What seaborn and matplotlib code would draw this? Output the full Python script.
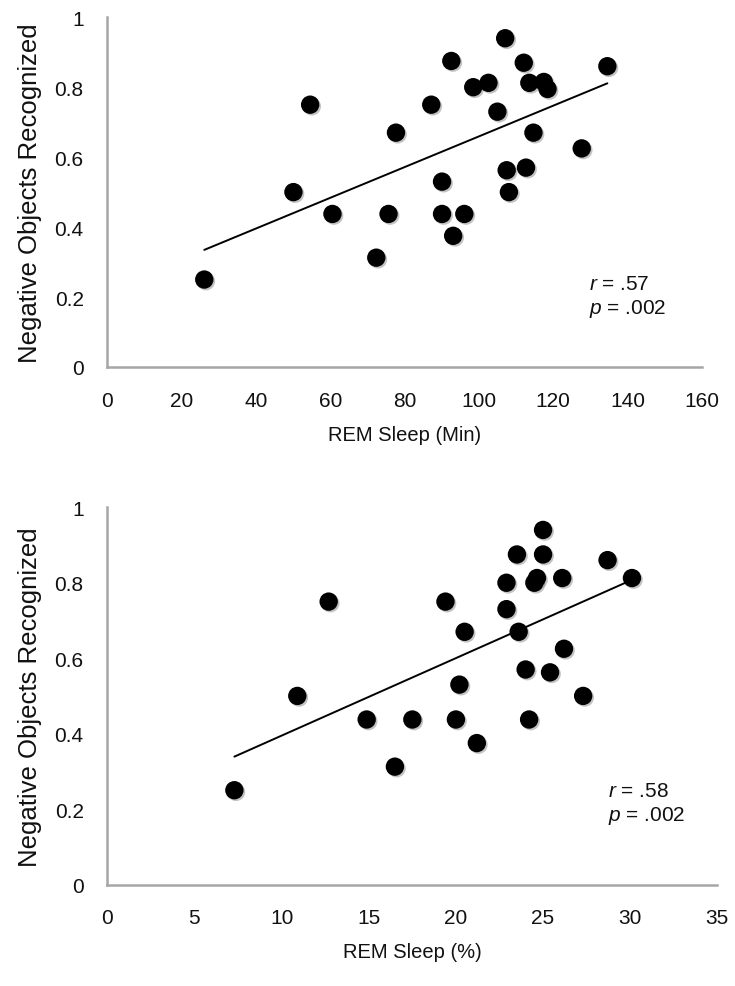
import numpy as np
import pandas as pd
import seaborn as sns
import matplotlib
matplotlib.use("Agg")
import matplotlib.pyplot as plt
import matplotlib.patheffects as pe

# REM sleep in minutes vs proportion of negative objects recognized
rem_min = [26.1, 50.1, 54.6, 60.6, 72.4, 75.7, 77.7, 87.2, 92.6, 90.1, 90.1, 96.1, 93.1, 98.5,
           102.6, 105.0, 107.1, 107.5, 108.1, 112.1, 112.7, 113.6, 114.7, 117.5, 118.5, 127.7, 134.6]
neg_min = [0.25, 0.5, 0.75, 0.4375, 0.3125, 0.4375, 0.67, 0.75, 0.875, 0.53, 0.4375, 0.4375, 0.375, 0.8,
           0.8125, 0.73, 0.94, 0.5625, 0.5, 0.87, 0.57, 0.8125, 0.67, 0.815, 0.795, 0.625, 0.86]

# REM sleep in percent vs proportion of negative objects recognized
rem_pct = [7.29, 10.9, 12.7, 14.88, 16.5, 17.5, 19.4, 20.0, 20.2, 20.5, 21.2, 22.9, 22.9, 23.5,
           23.6, 24.0, 24.2, 24.5, 24.65, 25.0, 25.0, 25.4, 26.1, 26.2, 27.3, 28.7, 30.1]
neg_pct = [0.25, 0.5, 0.75, 0.4375, 0.3125, 0.4375, 0.75, 0.4375, 0.53, 0.67, 0.375, 0.8, 0.73, 0.875,
           0.67, 0.57, 0.4375, 0.8, 0.8125, 0.94, 0.875, 0.5625, 0.8125, 0.625, 0.5, 0.86, 0.8125]

y_ticks = [0, 0.2, 0.4, 0.6, 0.8, 1]
x_ticks_min = [0, 20, 40, 60, 80, 100, 120, 140, 160]
x_ticks_pct = [0, 5, 10, 15, 20, 25, 30, 35]

sns.set_style("white")
plt.rcParams['font.family'] = ['Liberation Sans', 'DejaVu Sans']
plt.rcParams['mathtext.fontset'] = 'custom'
plt.rcParams['mathtext.it'] = 'Liberation Sans:italic'
plt.rcParams['mathtext.rm'] = 'Liberation Sans'

AXIS_GREY = '#a6a6a6'
TEXT_COL = '#111111'


def rem_panel(ax, x, y, xticks, xlabel, stats, stats_pos):
    """
    Scatter with a linear fit, Excel look
    """
    df = pd.DataFrame({'rem': x, 'neg': y})
    shadow = [pe.SimplePatchShadow(offset=(1.2, -1.2), shadow_rgbFace='#888888', alpha=0.5), pe.Normal()]
    sns.regplot(x='rem', y='neg', data=df, ax=ax, ci=None,
                scatter_kws=dict(s=175, color='black', linewidths=0, alpha=1, path_effects=shadow),
                line_kws=dict(color='black', lw=1.4))
    ax.set_xlim(xticks[0], xticks[-1])
    ax.set_ylim(0, 1)
    ax.set_xticks(xticks)
    ax.set_yticks(y_ticks)
    ax.set_yticklabels(['{:g}'.format(t) for t in y_ticks])
    ax.set_xlabel(xlabel, fontsize=14.5, color=TEXT_COL, labelpad=11)
    ax.set_ylabel('Negative Objects Recognized', fontsize=18.5, color=TEXT_COL, labelpad=9)
    sns.despine(ax=ax)
    for side in ['left', 'bottom']:
        ax.spines[side].set_color(AXIS_GREY)
        ax.spines[side].set_linewidth(1.8)
    ax.tick_params(axis='both', direction='out', length=5, width=1.5, color=AXIS_GREY,
                   labelsize=15, labelcolor=TEXT_COL)
    ax.tick_params(axis='x', pad=12)
    ax.tick_params(axis='y', pad=12)
    ax.text(stats_pos[0], stats_pos[1], stats, fontsize=15, color=TEXT_COL,
            linespacing=1.25, va='baseline')


fig = plt.figure(figsize=(7.35, 9.87), dpi=100)
ax1 = fig.add_axes([0.146, 0.6272, 0.8087, 0.3543])
ax2 = fig.add_axes([0.146, 0.1028, 0.830, 0.3822])

rem_panel(ax1, rem_min, neg_min, x_ticks_min, 'REM Sleep (Min)',
          '$\\it{r}$ = .57\n$\\it{p}$ = .002', (129.6, 0.153))
rem_panel(ax2, rem_pct, neg_pct, x_ticks_pct, 'REM Sleep (%)',
          '$\\it{r}$ = .58\n$\\it{p}$ = .002', (28.7, 0.17))

fig.savefig('out.png', dpi=100)
